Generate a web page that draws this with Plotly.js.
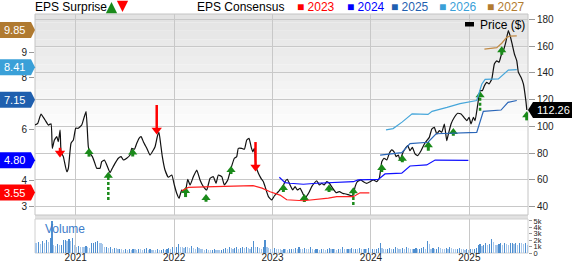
<!DOCTYPE html>
<html><head><meta charset="utf-8">
<script src="https://cdn.plot.ly/plotly-3.0.1.min.js"></script>
<style>html,body{margin:0;padding:0;background:#fff}#chart{width:572px;height:264px}</style>
</head><body><div id="chart"></div>
<script>
// ---------- DATA ----------
const priceYears = [2020.586,2020.614,2020.647,2020.688,2020.722,2020.749,2020.762,2020.783,2020.807,2020.823,2020.841,2020.851,2020.874,2020.909,2020.925,2020.952,2020.976,
2021.000,2021.026,2021.061,2021.087,2021.105,2021.128,2021.145,2021.169,2021.189,2021.213,2021.247,2021.264,2021.291,2021.315,2021.349,2021.372,2021.399,2021.433,2021.461,2021.484,2021.518,2021.552,2021.569,2021.596,2021.620,2021.643,2021.664,2021.687,2021.722,2021.755,2021.789,2021.806,2021.833,2021.846,2021.862,2021.880,2021.907,2021.941,2021.976,
2022.002,2022.026,2022.050,2022.077,2022.111,2022.138,2022.162,2022.195,2022.230,2022.263,2022.297,2022.331,2022.365,2022.398,2022.426,2022.449,2022.484,2022.510,2022.545,2022.578,2022.612,2022.636,2022.652,2022.687,2022.714,2022.738,2022.761,2022.782,2022.799,2022.815,2022.832,2022.856,2022.883,2022.907,2022.924,2022.958,2022.992,
2023.018,2023.043,2023.076,2023.104,2023.127,2023.150,2023.178,2023.205,2023.229,2023.252,2023.280,2023.307,2023.330,2023.354,2023.374,2023.398,2023.422,2023.449,2023.476,2023.500,2023.523,2023.551,2023.577,2023.612,2023.645,2023.679,2023.714,2023.747,2023.781,2023.815,2023.839,2023.862,2023.896,2023.923,2023.957,2023.991,
2024.024,2024.059,2024.085,2024.110,2024.133,2024.161,2024.187,2024.211,2024.235,2024.255,2024.279,2024.296,2024.319,2024.346,2024.374,2024.397,2024.421,2024.448,2024.475,2024.509,2024.543,2024.567,2024.593,2024.618,2024.644,2024.669,2024.695,2024.720,2024.746,2024.770,2024.787,2024.814,2024.848,2024.882,2024.916,2024.949,2024.974,2024.997,
2025.017,2025.041,2025.058,2025.086,2025.109,2025.132,2025.153,2025.177,2025.200,2025.228,2025.254,2025.278,2025.302,2025.322,2025.345,2025.370,2025.396,2025.414,2025.431,2025.458,2025.482,2025.498,2025.525,2025.549,2025.574,2025.584];
const priceValues = [101,102.3,109.2,104.8,101,102,83.6,89.8,92.3,88.6,97.3,81,77.4,66.1,68.7,87.4,89.8,
98.6,98.6,101,107.2,111,84.8,79.9,77.4,73.6,68.7,68.7,73.6,74.9,71.2,65.4,68.7,72.4,76.2,77.4,74.9,76.2,78.6,83.6,82.9,87.4,91.1,92.3,88.6,83.6,78.6,82.4,84.8,93.6,95.5,87.4,77.4,67.4,62,63.7,
56.2,50,46.3,52.5,50,60.5,56.2,62.4,67.4,60,55,52.5,61.2,62.4,57.5,63.7,62.4,56.2,60,68.7,76.2,77.4,83.6,83.6,82.9,89.8,91.1,84.8,81,83.6,69.9,65,61.2,58.7,55,47.5,45,
48,50,52.5,55,58.7,60.5,56.2,52.5,55,52.5,53.7,50,46.3,48.7,51.2,55,57.5,59.4,56.2,57.5,56.2,58.7,57.5,53.7,50.5,51.2,50,49.5,48.7,48,55,58.7,60,58.7,57.5,58.7,
60,58.7,61.2,73.6,76.2,74.9,79.9,82.4,81,77.4,78.6,74.4,79.4,83.1,85.6,81.8,84.4,79.4,78.1,81.8,86.8,89.3,91.8,98,99.3,94.3,96.8,95.6,101.8,89.3,94.3,101.8,106.8,109.8,109.3,106.3,104.2,106.8,
101.8,106.8,104.2,116.7,126.7,126.7,130.4,132.9,131.7,135.4,146.6,149,147.9,152.8,156.5,162.8,171.5,167.7,162.8,154.1,149,140.4,136.7,131.7,119.2,112.26];

const eps2023Years = [2022.077,2022.144,2022.314,2022.568,2022.802,2022.893,2022.975,2023.076,2023.144,2023.313,2023.449,2023.567,2023.652,2023.821,2023.889,2023.984];
const eps2023Values = [3.62,3.75,3.77,3.79,3.82,3.72,3.58,3.45,3.27,3.23,3.28,3.33,3.39,3.39,3.54,3.54];
const eps2024Years = [2023.069,2023.127,2023.178,2023.313,2023.449,2023.686,2023.821,2023.869,2024.075,2024.143,2024.313,2024.397,2024.567,2024.652,2024.990];
const eps2024Values = [4.14,3.93,3.91,3.87,3.91,3.93,3.97,4.04,4.06,4.27,4.30,4.58,4.62,4.81,4.80];
const eps2025Years = [2024.093,2024.245,2024.313,2024.397,2024.580,2024.662,2025.075,2025.142,2025.322,2025.393,2025.482];
const eps2025Values = [5.00,5.07,5.10,5.45,5.50,5.83,5.88,6.70,6.75,7.05,7.12];
const eps2026Years = [2024.153,2024.225,2024.316,2024.418,2024.580,2024.621,2024.773,2024.905,2025.075,2025.126,2025.160,2025.295,2025.396,2025.482];
const eps2026Values = [5.98,6.03,6.28,6.60,6.58,6.70,6.85,7.00,7.12,7.75,7.94,7.96,8.30,8.32];
const eps2027Years = [2025.153,2025.279,2025.329,2025.380,2025.414,2025.482];
const eps2027Values = [9.11,9.17,9.34,9.57,9.62,9.63];

const tagLabels = ['9.85','8.41','7.15','4.80','3.55'];
const tagValues = [9.85,8.41,7.15,4.80,3.55];
const tagColors = ['#b07a30','#3aa0d8','#1f5fae','#0000ff','#ff0000'];
const lastPrice = 112.26;

// surprises: date, head position (price), tail position (price), direction, large (dashed)
const surpriseYears = [2020.840,2021.135,2021.331,2021.579,2021.823,2022.116,2022.324,2022.578,2022.827,2023.110,2023.323,2023.574,2023.821,2024.110,2024.319,2024.583,2024.837,2025.109,2025.329,2025.583];
const surpriseHead  = [80.1,80.9,63.2,80.5,97.3,51.7,46.5,67.4,69.7,54,46.5,53.6,51.5,68.9,75.9,85.9,95.8,123.2,156.8,108.3];
const surpriseTail  = [84,77.4,45,77.5,116,47.2,43.7,64.4,88.3,51,43.5,51,41.3,65.9,73.2,81.8,93,111.7,153.5,104.5];
const surpriseDir   = ['down','up','up','up','down','up','up','up','down','up','up','up','up','up','up','up','up','up','up','up'];
const surpriseBig   = [false,false,true,false,false,false,false,false,false,false,false,false,true,false,false,false,false,true,false,false];

const volumeStart = 2020.586;
const volumeK = [1.6,1.5,1.7,1.4,1.8,1.5,2.0,1.7,2.3,5.0,
1.3,1.1,1.4,1.2,1.3,2.0,2.1,1.8,2.2,1.9,
2.4,1.2,1.0,1.1,1.0,1.0,0.9,1.1,1.0,0.8,
1.5,1.6,1.7,1.8,1.6,1.5,1.4,0.9,1.0,0.8,
0.9,0.7,0.8,0.8,0.6,0.7,0.6,0.5,0.6,0.5,
0.6,0.5,0.6,0.6,0.5,0.6,0.6,0.5,0.6,0.8,
0.5,0.6,0.5,0.5,0.5,0.6,0.4,0.5,0.6,0.5,
0.6,0.8,0.7,0.9,0.8,1.0,1.4,1.0,0.9,0.8,
1.0,0.9,0.8,1.1,0.8,0.7,0.9,0.8,0.7,0.6,
0.5,0.6,0.5,0.4,0.5,0.6,0.5,0.5,0.4,0.5,
0.6,0.8,0.7,0.9,0.8,0.7,0.8,0.9,0.7,0.8,
0.9,0.8,0.9,0.8,0.7,0.9,1.8,0.9,1.0,0.8,
0.7,0.9,2.1,1.0,0.8,0.7,0.6,0.8,0.7,0.6,
0.6,0.5,0.7,0.6,0.5,0.6,0.7,0.6,0.8,0.7,
0.9,0.7,0.6,0.8,0.7,0.6,0.9,0.6,0.5,0.6,
0.7,0.5,0.6,0.6,0.5,0.6,0.8,0.6,0.7,0.6,
0.5,0.7,0.6,0.9,0.7,0.6,0.7,0.6,0.8,0.6,
0.7,0.6,0.8,0.7,0.6,0.7,0.6,0.8,0.6,0.7,
0.6,0.7,0.8,1.5,0.8,0.7,0.6,0.7,0.8,0.6,
0.7,0.9,0.8,0.7,0.6,0.8,0.7,0.9,0.8,0.7,
0.6,0.7,0.8,0.6,0.7,0.8,0.9,0.7,1.8,1.4,
0.7,0.8,0.6,0.7,0.9,0.8,0.7,0.6,0.8,0.7,
0.9,0.8,0.7,0.6,0.7,0.8,0.7,0.6,0.5,0.6,
0.5,0.7,0.6,0.7,0.8,1.2,1.4,1.1,1.3,1.5,
1.2,1.4,2.2,1.7,1.3,1.2,1.4,1.5,1.3,1.6,
1.4,1.3,1.5,1.6,1.4,1.5,1.3,1.6,1.5,1.4,
1.5,1.2];

const yearTicks = [2021,2022,2023,2024,2025];
const yearLabels = ['2021','2022','2023','2024','2025'];
const priceTicks = [40,60,80,100,120,140,160,180];
const epsTicks = [3,4,6,8,9];
const volTicks = [0,1,2,3,4,5];
const volTickText = ['0','1k','2k','3k','4k','5k'];

// ---------- LAYOUT GEOMETRY ----------
const W = 572, H = 264, ML = 35, MR = 44, MT = 14, MB = 11;
const PW = W - ML - MR, PH = H - MT - MB;
const px = p => (p - ML) / PW;
const py = p => (H - MB - p) / PH;
const mainBottom = py(215), volTop = py(219);
const FONT = 'Liberation Sans, Arial, sans-serif';
const GREEN = '#1a8a1a', RED = '#ff0000';

// ---------- TRACES ----------
const traces = [];
const weekStep = 1 / 52.18;
const volX = volumeK.map((_, i) => volumeStart + i * weekStep);
const volColors = volumeK.map((v, i) => (i > 0 && v > volumeK[i - 1]) ? '#4f8fd0' : '#a7c7ea');
traces.push({type:'bar', x: volX, y: volumeK, xaxis:'x', yaxis:'y3', marker:{color: volColors, line:{width:0}}, width: weekStep*0.62, hoverinfo:'skip'});

const cons = [
  [eps2023Years, eps2023Values, '#ff2020'],
  [eps2024Years, eps2024Values, '#1010ff'],
  [eps2025Years, eps2025Values, '#2a66b8'],
  [eps2026Years, eps2026Values, '#46a6da'],
  [eps2027Years, eps2027Values, '#c08a45']
];
cons.forEach(([xs, ys, c]) => traces.push({type:'scatter', mode:'lines', x: xs, y: ys, xaxis:'x', yaxis:'y2', line:{color:c, width:1.2}, hoverinfo:'skip'}));

traces.push({type:'scatter', mode:'lines', x: priceYears, y: priceValues, xaxis:'x', yaxis:'y', line:{color:'#111', width:1.2, shape:'spline', smoothing:0.4}, hoverinfo:'skip'});

function stems(filter) {
  const xs = [], ys = [];
  surpriseYears.forEach((yr, i) => { if (filter(i)) { xs.push(yr, yr, null); ys.push(surpriseTail[i], surpriseHead[i], null); } });
  return {xs, ys};
}
let s = stems(i => surpriseDir[i] === 'up' && !surpriseBig[i]);
traces.push({type:'scatter', mode:'lines', x:s.xs, y:s.ys, xaxis:'x', yaxis:'y', line:{color:GREEN, width:3}, hoverinfo:'skip'});
s = stems(i => surpriseDir[i] === 'up' && surpriseBig[i]);
traces.push({type:'scatter', mode:'lines', x:s.xs, y:s.ys, xaxis:'x', yaxis:'y', line:{color:GREEN, width:2.5, dash:'3px,2px'}, hoverinfo:'skip'});
s = stems(i => surpriseDir[i] === 'down');
traces.push({type:'scatter', mode:'lines', x:s.xs, y:s.ys, xaxis:'x', yaxis:'y', line:{color:RED, width:2.5}, hoverinfo:'skip'});
const upIdx = surpriseYears.map((_, i) => i).filter(i => surpriseDir[i] === 'up');
const dnIdx = surpriseYears.map((_, i) => i).filter(i => surpriseDir[i] === 'down');
traces.push({type:'scatter', mode:'markers', x: upIdx.map(i => surpriseYears[i]), y: upIdx.map(i => surpriseHead[i]), xaxis:'x', yaxis:'y', marker:{symbol:'triangle-up', size:8, color:GREEN}, hoverinfo:'skip'});
traces.push({type:'scatter', mode:'markers', x: dnIdx.map(i => surpriseYears[i]), y: dnIdx.map(i => surpriseHead[i]), xaxis:'x', yaxis:'y', marker:{symbol:'triangle-down', size:9, color:RED}, hoverinfo:'skip'});

// ---------- SHAPES ----------
const shapes = [];
const bands = 24;
for (let b = 0; b < bands; b++) {
  const t0 = b / bands, t1 = (b + 1) / bands;
  const y1 = 1 - t0 * (1 - mainBottom), y0 = 1 - t1 * (1 - mainBottom);
  const k = Math.min(1, (t0 + 0.5/bands) / 0.6);
  const g = Math.round(0xe2 + (0xff - 0xe2) * k);
  const col = `rgb(${g},${g},${g})`;
  shapes.push({type:'rect', xref:'paper', yref:'paper', x0:0, x1:1, y0:y0, y1:y1, fillcolor:col, line:{width:0}, layer:'below'});
}
shapes.push({type:'rect', xref:'paper', yref:'paper', x0:0, x1:1, y0:volTop, y1:mainBottom, fillcolor:'#e2e2e2', line:{width:0}, layer:'below'});
shapes.push({type:'rect', xref:'paper', yref:'paper', x0:0, x1:1, y0:mainBottom, y1:1, fillcolor:'rgba(0,0,0,0)', line:{color:'#c4c4c4', width:1}, layer:'below'});
shapes.push({type:'rect', xref:'paper', yref:'paper', x0:0, x1:1, y0:0, y1:volTop, fillcolor:'rgba(0,0,0,0)', line:{color:'#d0d0d0', width:1}, layer:'below'});
tagValues.forEach((v, i) => {
  shapes.push({type:'path', xref:'paper', yref:'y2', xsizemode:'pixel', ysizemode:'pixel', xanchor:0, yanchor:v,
    path:'M-35,-8 L-4,-8 L0,0 L-4,8 L-35,8 Z', fillcolor:tagColors[i], line:{width:0}, layer:'above'});
});
shapes.push({type:'path', xref:'paper', yref:'y', xsizemode:'pixel', ysizemode:'pixel', xanchor:1, yanchor:lastPrice,
  path:'M0,0 L5,-8 L44,-8 L44,8 L5,8 Z', fillcolor:'#000', line:{width:0}, layer:'above'});
shapes.push({type:'rect', xref:'paper', yref:'paper', xsizemode:'pixel', ysizemode:'pixel', xanchor:1, yanchor:1,
  x0:-63, x1:-54, y0:-8, y1:-12.5, fillcolor:'#000', line:{width:0}, layer:'above'});

// ---------- ANNOTATIONS ----------
const ann = [];
const txt = (text, xp, yp, color, size, anchor) => ann.push({text, x:px(xp), y:py(yp), xref:'paper', yref:'paper', xanchor:anchor||'left', yanchor:'middle', showarrow:false, font:{family:FONT, size:size||12, color:color||'#000'}, borderpad:0});
txt('EPS Surprise', 34, 7);
txt('EPS Consensus', 196, 7);
const legItems = [['2023','#ff0000',296],['2024','#0000ff',346],['2025','#1f5fb0',390],['2026','#3aa0d8',438],['2027','#b27b30',486]];
legItems.forEach(([t, c, x]) => txt('■ ' + t, x, 7, c));
txt('Price ($)', 479, 25);
txt('Volume', 44, 229, '#3d7cc9');
ann.push({text:'', x:px(111.5), y:py(2), xref:'paper', yref:'paper', showarrow:true, ax:0, ay:10, arrowhead:2, arrowsize:0.9, arrowwidth:2.5, arrowcolor:GREEN});
ann.push({text:'', x:px(122.5), y:py(12), xref:'paper', yref:'paper', showarrow:true, ax:0, ay:-10, arrowhead:2, arrowsize:0.9, arrowwidth:2.5, arrowcolor:RED});
tagValues.forEach((v, i) => ann.push({text:tagLabels[i], x:0, y:v, xref:'paper', yref:'y2', xanchor:'center', yanchor:'middle', xshift:-21, showarrow:false, font:{family:FONT, size:11, color:'#fff'}}));
ann.push({text: lastPrice.toFixed(2), x:1, y:lastPrice, xref:'paper', yref:'y', xanchor:'center', yanchor:'middle', xshift:25, showarrow:false, font:{family:FONT, size:11, color:'#fff'}});

const layout = {
  width:W, height:H, margin:{l:ML, r:MR, t:MT, b:MB, pad:0},
  paper_bgcolor:'#fff', plot_bgcolor:'rgba(0,0,0,0)', showlegend:false,
  font:{family:FONT, size:10, color:'#222'},
  bargap:0,
  xaxis:{range:[2020.586, 2025.596], anchor:'y3', tickvals:yearTicks, ticktext:yearLabels, showgrid:true, gridcolor:'#c8c8c8', gridwidth:1, zeroline:false, ticks:'', ticklabelstandoff:-3, tickfont:{size:10, color:'#222'}, showline:false, fixedrange:true},
  yaxis:{domain:[mainBottom, 1], range:[33.8, 183.96], side:'right', tickvals:priceTicks, showgrid:true, gridcolor:'#c8c8c8', zeroline:false, ticks:'outside', ticklen:6, tickcolor:'#999', tickfont:{size:10, color:'#222'}, showline:false},
  yaxis2:{overlaying:'y', range:[2.678, 10.475], side:'left', tickvals:epsTicks, showgrid:false, zeroline:false, ticks:'outside', ticklen:5, tickcolor:'#999', tickfont:{size:10, color:'#222'}, showline:false},
  yaxis3:{domain:[0, volTop], range:[0, 5.3], side:'right', tickvals:volTicks, ticktext:volTickText, showgrid:false, zeroline:false, ticks:'outside', ticklen:3, tickcolor:'#999', tickfont:{size:7.5, color:'#222'}, showline:false},
  shapes, annotations: ann
};
Plotly.newPlot('chart', traces, layout, {staticPlot:true, displayModeBar:false});
</script></body></html>
